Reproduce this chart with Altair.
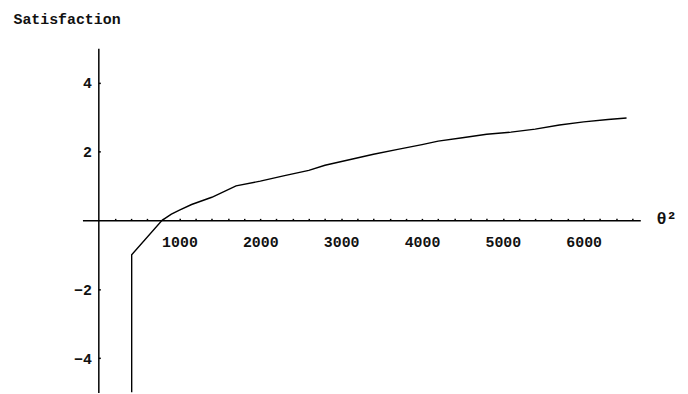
import altair as alt
import pandas as pd

# Curve (theta^2 vs satisfaction)
theta2 = [409, 409, 785, 900, 1000, 1150, 1400, 1700, 2000, 2300, 2600, 2800,
          3100, 3400, 3700, 4000, 4200, 4500, 4800, 5100, 5400, 5700, 6000, 6300, 6530]
satisfaction = [-5.0, -1.0, 0.0, 0.18, 0.3, 0.46, 0.67, 1.0, 1.14, 1.30, 1.45, 1.6,
                1.76, 1.92, 2.06, 2.2, 2.3, 2.4, 2.5, 2.56, 2.65, 2.77, 2.86, 2.93, 2.97]

x_ticks = list(range(200, 6601, 200))
y_ticks = [-4, -2, 2, 4]

df = pd.DataFrame({"t": theta2, "s": satisfaction, "order": list(range(len(theta2)))})

FONT = "Liberation Mono"
W, H = 562, 347

chart = alt.Chart(df).mark_line(color="black", strokeWidth=1.4, clip=True).encode(
    x=alt.X("t:Q", scale=alt.Scale(domain=[-200, 6700], nice=False, zero=False),
            axis=alt.Axis(orient="top", offset=-H / 2, values=x_ticks, format="d",
                          labelExpr="datum.value % 1000 == 0 ? datum.label : ''",
                          tickSize=2, tickColor="black", tickWidth=1.5,
                          domainColor="black", domainWidth=1.5,
                          labelPadding=-16, labelBaseline="top", labelAngle=0,
                          labelFont=FONT, labelFontSize=15, labelFontWeight="bold",
                          labelColor="#111111",
                          labelOverlap=False, labelFlush=False, grid=False,
                          title="θ²", titleFont=FONT, titleFontSize=17,
                          titleFontWeight="bold", titleColor="#111111",
                          titleX=588, titleY=-2, titleAlign="center",
                          titleBaseline="middle", titleAngle=0)),
    y=alt.Y("s:Q", scale=alt.Scale(domain=[-5, 5], nice=False, zero=False),
            axis=alt.Axis(orient="right", offset=-(W - 16), values=y_ticks,
                          tickSize=2, tickColor="black", tickWidth=1.5,
                          domainColor="black", domainWidth=1.5,
                          labelPadding=-9, labelAlign="right", labelBaseline="middle",
                          labelFont=FONT, labelFontSize=15, labelFontWeight="bold",
                          labelColor="#111111",
                          labelOverlap=False, labelFlush=False, grid=False,
                          title="Satisfaction", titleFont=FONT, titleFontSize=15,
                          titleFontWeight="bold", titleColor="#111111",
                          titleX=-86, titleY=-30, titleAlign="left",
                          titleBaseline="middle", titleAngle=0)),
    order="order:Q",
).properties(
    width=W, height=H,
    padding={"left": 75, "top": 39, "right": 40, "bottom": 0},
    autosize="none",
    background="white",
).configure_view(stroke=None)

chart.save("out.html", embed_options={"renderer": "svg", "actions": False})
